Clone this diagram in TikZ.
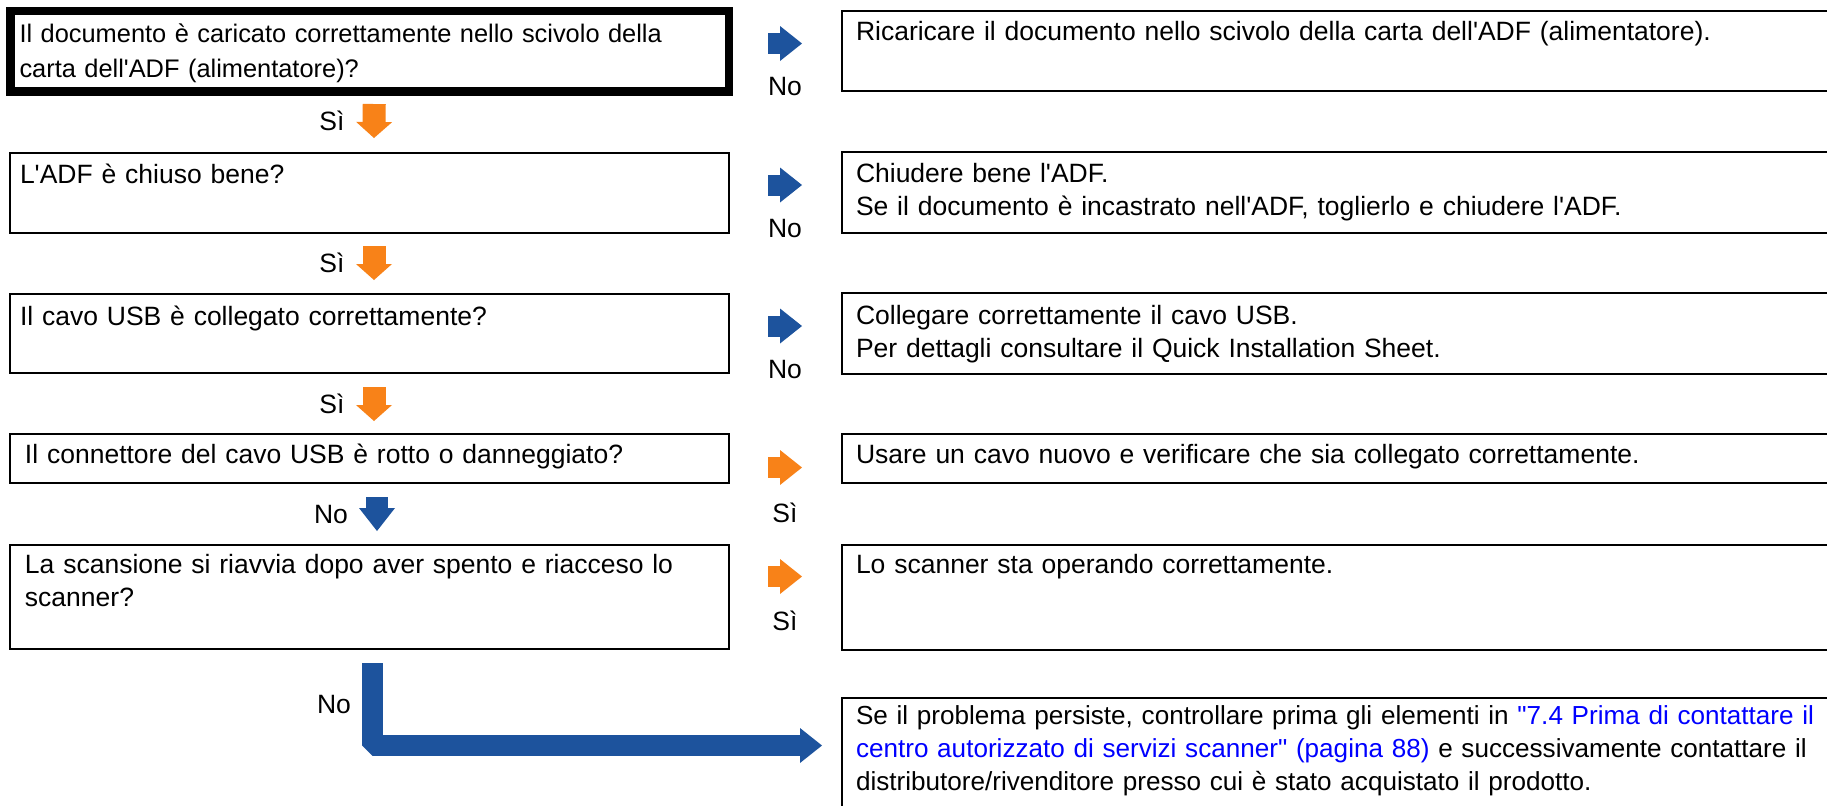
\documentclass[tikz,border=0pt]{standalone}
\usepackage{fontspec}
\setmainfont{Liberation Sans}[Ligatures=TeXOff]
\usetikzlibrary{arrows.meta,calc}
\definecolor{bluec}{RGB}{29,83,157}
\definecolor{orangec}{RGB}{248,130,24}
\definecolor{linkc}{RGB}{0,0,255}
\tikzset{
  box/.style={draw=black, line width=1.3pt, rectangle, inner sep=0pt, outer sep=0pt, anchor=north west},
  lbox/.style={box, minimum width=359.5pt},
  rbox/.style={box, minimum width=499pt},
  txt/.style={anchor=base west, inner sep=0pt, outer sep=0pt, text width=490pt, align=left,
    font=\fontsize{13.25pt}{16.5pt}\selectfont},
  lab/.style={inner sep=0pt, font=\fontsize{13.25pt}{16.5pt}\selectfont},
  rarrow/.style={line width=10.5pt, -{Triangle[length=11pt,width=17.5pt,line width=0pt]}},
  oarrow/.style={orangec, line width=11.5pt, -{Triangle[length=8pt,width=18pt,line width=0pt]}},
  barrow/.style={bluec, line width=11pt, -{Triangle[length=11.5pt,width=18pt,line width=0pt]}},
  lconn/.style={bluec, line width=10.5pt, line join=bevel, -{Triangle[length=11pt,width=17.5pt,line width=0pt]}}
}
\begin{document}
\begin{tikzpicture}[x=0.5pt,y=-0.5pt]
\useasboundingbox (0,0) rectangle (1827,805);
\fill[white] (0,0) rectangle (1827,805);
\clip (0,0) rectangle (1827,805);
% left boxes
\node[lbox, line width=4.25pt, minimum width=359.25pt, minimum height=40.25pt] (L1) at (10.5,11) {};
\node[lbox, minimum height=40pt] (L2) at (10,153) {};
\node[lbox, minimum height=39.5pt] (L3) at (10,294) {};
\node[lbox, minimum height=24.5pt] (L4) at (10,434) {};
\node[lbox, minimum height=52pt] (L5) at (10,545) {};
% right boxes
\node[rbox, minimum height=40pt] (R1) at (842,11) {};
\node[rbox, minimum height=40.5pt] (R2) at (842,152) {};
\node[rbox, minimum height=40.5pt] (R3) at (842,293) {};
\node[rbox, minimum height=24.5pt] (R4) at (842,434) {};
\node[rbox, minimum height=52.5pt] (R5) at (842,545) {};
\node[rbox, minimum height=70pt] (R6) at (842,698) {};
% texts
\node[txt, font=\fontsize{12.7pt}{17.5pt}\selectfont] (tL1) at ($(L1.north west)+(9,31.5)$) {Il documento è caricato correttamente nello scivolo della\\carta dell'ADF (alimentatore)?};
\node[txt] (tL2) at ($(L2.north west)+(10,30)$) {L'ADF è chiuso bene?};
\node[txt] (tL3) at ($(L3.north west)+(10,31)$) {Il cavo USB è collegato correttamente?};
\node[txt] (tL4) at ($(L4.north west)+(15,29)$) {Il connettore del cavo USB è rotto o danneggiato?};
\node[txt] (tL5) at ($(L5.north west)+(15,28)$) {La scansione si riavvia dopo aver spento e riacceso lo\\scanner?};
\node[txt] (tR1) at ($(R1.north west)+(14,29)$) {Ricaricare il documento nello scivolo della carta dell'ADF (alimentatore).};
\node[txt] (tR2) at ($(R2.north west)+(14,30)$) {Chiudere bene l'ADF.\\Se il documento è incastrato nell'ADF, toglierlo e chiudere l'ADF.};
\node[txt] (tR3) at ($(R3.north west)+(14,31)$) {Collegare correttamente il cavo USB.\\Per dettagli consultare il Quick Installation Sheet.};
\node[txt] (tR4) at ($(R4.north west)+(14,29)$) {Usare un cavo nuovo e verificare che sia collegato correttamente.};
\node[txt] (tR5) at ($(R5.north west)+(14,28)$) {Lo scanner sta operando correttamente.};
\node[txt, font=\fontsize{13.05pt}{16.5pt}\selectfont] (tR6) at ($(R6.north west)+(14,26)$) {Se il problema persiste, controllare prima gli elementi in {\color{linkc}"7.4 Prima di contattare il}\\{\color{linkc}centro autorizzato di servizi scanner" (pagina 88)} e successivamente contattare il\\distributore/rivenditore presso cui è stato acquistato il prodotto.};
% right arrows
\draw[rarrow, bluec] ($(L1.north east)+(39,32.5)$) -- ($(R1.north west)+(-40,32.5)$);
\draw[rarrow, bluec] ($(L2.north east)+(39,32)$) -- ($(R2.north west)+(-40,33)$);
\draw[rarrow, bluec] ($(L3.north east)+(39,32)$) -- ($(R3.north west)+(-40,33)$);
\draw[rarrow, orangec] ($(L4.north east)+(39,33.5)$) -- ($(R4.north west)+(-40,33.5)$);
\draw[rarrow, orangec] ($(L5.north east)+(39,31.5)$) -- ($(R5.north west)+(-40,31.5)$);
\node[lab] (n1) at (785,87) {No};
\node[lab] (n2) at (785,229) {No};
\node[lab] (n3) at (785,370) {No};
\node[lab] (s4) at (785,513) {Sì};
\node[lab] (s5) at (785,621) {Sì};
% down arrows
\draw[oarrow] ($(L1.south)+(4.5,12.5)$) -- ($(L2.north)+(4.5,-15)$);
\draw[oarrow] ($(L2.south)+(4.5,13)$) -- ($(L3.north)+(4.5,-14)$);
\draw[oarrow] ($(L3.south)+(4.5,14)$) -- ($(L4.north)+(4.5,-13)$);
\draw[barrow] ($(L4.south)+(7.5,14)$) -- ($(L5.north)+(7.5,-14)$);
\node[lab] (s1) at (332,121) {Sì};
\node[lab] (s2) at (332,263) {Sì};
\node[lab] (s3) at (332,404) {Sì};
\node[lab] (n4) at (331,514) {No};
% bottom L connector
\coordinate (lstart) at ($(L5.south)+(3,14)$);
\coordinate (ltip) at ($(R6.north west)+(-20,47.5)$);
\draw[lconn] (lstart) |- (ltip);
\node[lab] (n5) at (334,704) {No};
\end{tikzpicture}
\end{document}
